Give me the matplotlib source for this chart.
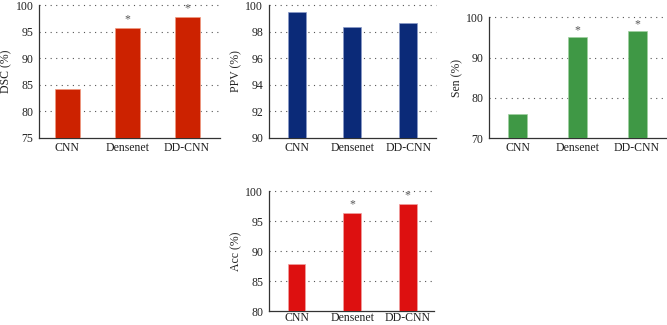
import matplotlib
matplotlib.use("Agg")
import matplotlib.pyplot as plt

plt.rcParams['font.family'] = ['Liberation Serif', 'DejaVu Serif']

models = ["CNN", "Densenet", "DD-CNN"]

dsc = [84.2, 95.6, 97.7]
ppv = [99.45, 98.37, 98.67]
sen = [75.95, 95.2, 96.7]
acc = [87.85, 96.3, 97.9]

dsc_star = [False, True, True]
ppv_star = [False, False, False]
sen_star = [False, True, True]
acc_star = [False, True, True]

dsc_ticks = [75, 80, 85, 90, 95, 100]
ppv_ticks = [90, 92, 94, 96, 98, 100]
sen_ticks = [70, 80, 90, 100]
acc_ticks = [80, 85, 90, 95, 100]

W, H = 667, 325
fig = plt.figure(figsize=(W / 100, H / 100), dpi=100)


def panel(box, vals, stars, ticks, ylabel, color, edge, xlim, width, star_off, label_x, xpad=3):
    l, r, t, b = box
    ax = fig.add_axes([l / W, 1 - b / H, (r - l) / W, (b - t) / H])
    x = list(range(len(models)))
    ax.bar(x, vals, width=width, color=color, edgecolor=edge, linewidth=0.5, zorder=3)
    ax.set_ylim(ticks[0], ticks[-1])
    ax.set_yticks(ticks)
    ax.set_xlim(*xlim)
    ax.set_xticks(x)
    ax.set_xticklabels(models)
    for yv in ticks[1:]:
        ax.axhline(yv, color="#555555", linestyle=(0, (1, 4)), linewidth=0.8, zorder=1,
                   clip_on=False)
    for s in ["top", "right"]:
        ax.spines[s].set_visible(False)
    for s in ["left", "bottom"]:
        ax.spines[s].set_linewidth(0.9)
        ax.spines[s].set_color("#333333")
    ax.tick_params(length=0, labelsize=8.5, colors="#222222", pad=4)
    ax.tick_params(axis="x", pad=xpad)
    ax.set_ylabel(ylabel, fontsize=8.5, color="#222222")
    ax.yaxis.label.set_va("center")
    ax.yaxis.set_label_coords(label_x / W, 1 - (t + b) / 2 / H, transform=fig.transFigure)
    for xi, v, st in zip(x, vals, stars):
        if st:
            ax.annotate("*", (xi, v), xytext=(0, star_off), textcoords="offset points",
                        ha="center", va="bottom", fontsize=8.5, color="#555555",
                        annotation_clip=False)
    return ax


panel((39, 220, 5, 138), dsc, dsc_star, dsc_ticks, "DSC (%)", "#cc2200", "#f09a80",
      (-0.475, 2.55), 0.42, 2, 6)
panel((268.7, 436, 5, 138), ppv, ppv_star, ppv_ticks, "PPV (%)", "#0b2a78", "#8a9ac8",
      (-0.5, 2.5), 0.32, 2, 236)
panel((489, 667, 17.3, 138.3), sen, sen_star, sen_ticks, "Sen (%)", "#3f9845", "#a0d0a0",
      (-0.477, 2.5), 0.32, 0, 457)
panel((268.7, 434, 191.3, 311), acc, acc_star, acc_ticks, "Acc (%)", "#dd1010", "#f0a0a0",
      (-0.5, 2.47), 0.32, 2, 236, xpad=1)

fig.savefig("out.png", dpi=100)
